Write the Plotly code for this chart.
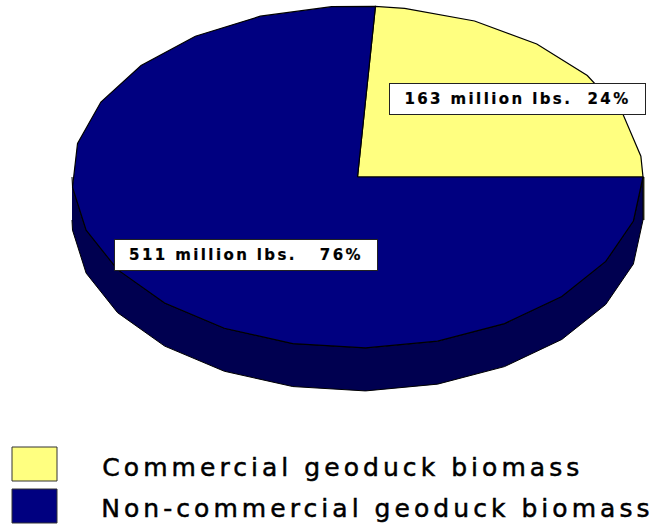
import numpy as np
import plotly.graph_objects as go

categories = ["Commercial geoduck biomass", "Non-commercial geoduck biomass"]
biomass_million_lbs = [163, 511]
shares_pct = [24, 76]
colors = ["#FFFF80", "#000080"]
wall_color = "#000050"

W, H = 656, 527
CX, CY, RX, RY, DEPTH = 357.5, 177, 285.5, 171, 43
STEP, OFFSET = 14.7, 7.0


def arc(a0, a1):
    grid = OFFSET + STEP * np.arange(0, 26)
    inner = grid[(grid > a0 + 1) & (grid < a1 - 1)]
    t = np.radians(np.concatenate([[a0], inner, [a1]]))
    return CX + RX * np.cos(t), CY - RY * np.sin(t)


fig = go.Figure()

# side wall of the yellow slice peeking out at the right edge
fig.add_trace(go.Scatter(x=[CX + RX + 0.5] * 2, y=[CY, CY + DEPTH], mode="lines",
                         line=dict(color="#3a3a20", width=2), hoverinfo="skip"))

# dark side wall of the navy slice
bx, by = arc(180, 360)
wx = np.concatenate([bx, bx[::-1]])
wy = np.concatenate([by + DEPTH, by[::-1]])
fig.add_trace(go.Scatter(x=wx, y=wy, mode="lines", fill="toself", fillcolor=wall_color,
                         line=dict(color="#000000", width=1), hoverinfo="skip"))

# top faces, angles driven by the shares
a0 = 0.0
for name, share, col in zip(categories, shares_pct, colors):
    a1 = a0 + share / 100 * 360
    ax, ay = arc(a0, a1)
    fig.add_trace(go.Scatter(x=np.concatenate([[CX], ax, [CX]]), y=np.concatenate([[CY], ay, [CY]]),
                             mode="lines", fill="toself", fillcolor=col, name=name,
                             line=dict(color="#000000", width=1.2), hoverinfo="skip"))
    a0 = a1


def label(i):
    return f"{biomass_million_lbs[i]} million lbs.{'  ' if i == 0 else '   '}{shares_pct[i]}%"


box = dict(showarrow=False, xref="x", yref="y", bgcolor="#FFFFFF", bordercolor="#222222", borderwidth=1,
           height=28, align="center", xanchor="center", yanchor="middle",
           font=dict(family="DejaVu Sans", size=15, color="#000000", weight="bold"))
annotations = [
    dict(text=label(0).replace("  ", "&nbsp;&nbsp;"), x=517.5, y=99, width=253, **box),
    dict(text=label(1).replace("   ", "&nbsp;&nbsp;&nbsp;"), x=245.5, y=255, width=260, **box),
]
for name, x, y in zip(categories, [343, 377.5], [467, 508]):
    annotations.append(dict(text=name, x=x, y=y, xref="x", yref="y", showarrow=False,
                            xanchor="center", yanchor="middle",
                            font=dict(family="DejaVu Sans", size=25, color="#000000")))

shapes = [dict(type="rect", xref="x", yref="y", x0=12, x1=57, y0=y0, y1=y0 + 34, fillcolor=c,
               line=dict(color="#333333", width=1))
          for y0, c in zip([447, 489], colors)]

fig.update_layout(
    width=W, height=H, margin=dict(l=0, r=0, t=0, b=0), paper_bgcolor="#FFFFFF", plot_bgcolor="#FFFFFF",
    showlegend=False, annotations=annotations, shapes=shapes,
    xaxis=dict(range=[0, W], visible=False, fixedrange=True),
    yaxis=dict(range=[H, 0], visible=False, fixedrange=True),
)

post = """
document.body.style.margin = '0';
document.querySelectorAll('.annotation-text').forEach(function (t, i) {
  t.style.letterSpacing = i < 2 ? '2.4px' : '4.05px';
  t.style.stroke = '#000000';
  t.style.strokeWidth = i < 2 ? '0.2px' : '0.5px';
});
"""
fig.write_html("out.html", post_script=post, config={"displayModeBar": False})
